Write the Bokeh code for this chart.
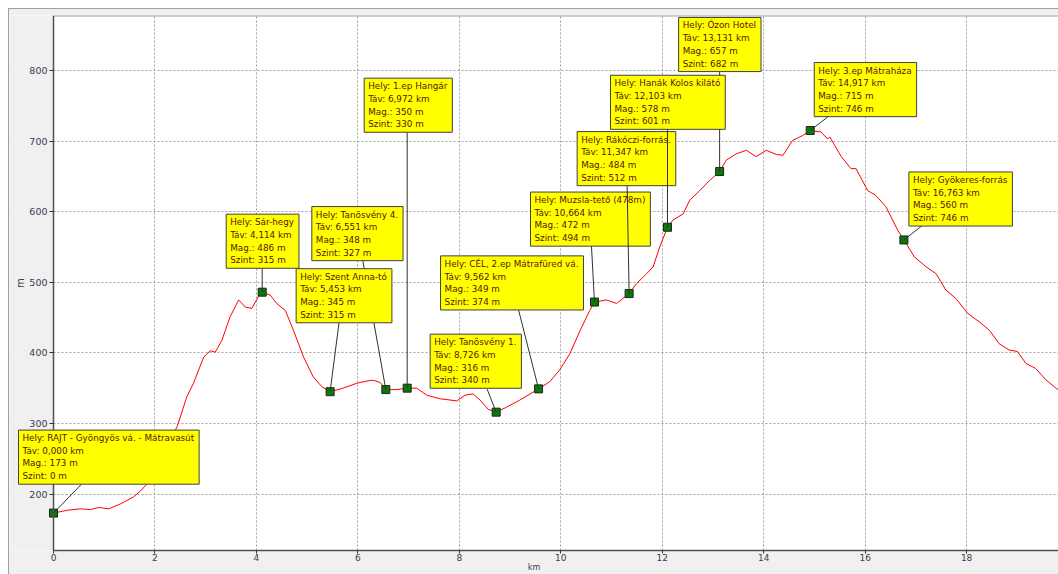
from bokeh.plotting import figure
from bokeh.models import Label, Arrow, Range1d
from bokeh.embed import file_html
from bokeh.resources import INLINE

# ---- elevation profile (distance km, elevation m) ----
dist_km = [0.0, 0.27, 0.53, 0.73, 0.89, 1.09, 1.32, 1.58, 1.71, 1.84, 2.04, 2.24, 2.44,
           2.63, 2.76, 2.96, 3.09, 3.19, 3.32, 3.48, 3.65, 3.78, 3.91, 4.07, 4.114, 4.27,
           4.40, 4.57, 4.73, 4.93, 5.12, 5.29, 5.453, 5.71, 5.98, 6.24, 6.31, 6.44, 6.551,
           6.77, 6.972, 7.16, 7.36, 7.62, 7.95, 8.11, 8.27, 8.41, 8.57, 8.726, 8.93, 9.19,
           9.562, 9.78, 9.98, 10.18, 10.37, 10.57, 10.664, 10.9, 11.1, 11.347, 11.49, 11.69,
           11.82, 11.95, 12.103, 12.21, 12.41, 12.54, 12.74, 12.93, 13.131, 13.26, 13.46,
           13.66, 13.85, 14.05, 14.25, 14.38, 14.57, 14.77, 14.917, 15.13, 15.26, 15.3,
           15.53, 15.72, 15.82, 16.05, 16.21, 16.41, 16.64, 16.763, 16.97, 17.2, 17.4,
           17.59, 17.79, 18.02, 18.25, 18.45, 18.64, 18.84, 19.0, 19.17, 19.36, 19.56,
           19.76, 19.9]
elev_m = [173, 177, 179, 178, 181, 179, 186, 196, 204, 214, 239, 267, 296,
          338, 357, 394, 403, 401, 418, 451, 475, 465, 463, 484, 486, 482,
          470, 460, 432, 394, 366, 352, 345, 350, 357, 361, 361, 358, 348,
          348, 350, 350, 340, 335, 332, 340, 342, 333, 320, 316, 323, 333,
          349, 359, 376, 399, 430, 460, 472, 475, 470, 484, 498, 512,
          522, 550, 578, 588, 597, 616, 630, 644, 657, 673, 682,
          687, 678, 687, 681, 680, 701, 708, 715, 713, 703, 706,
          678, 661, 661, 630, 623, 607, 574, 560, 536, 522, 512,
          489, 477, 456, 444, 432, 413, 404, 402, 385, 378, 362,
          350, 343]

# ---- waypoints ----
wp_name = ["RAJT - Gyöngyös vá. - Mátravasút", "Sár-hegy", "Szent Anna-tó",
           "Tanösvény 4.", "1.ep Hangár", "Tanösvény 1.", "CÉL, 2.ep Mátrafüred vá.",
           "Muzsla-tető (478m)", "Rákóczi-forrás.", "Hanák Kolos kilátó", "Ózon Hotel",
           "3.ep Mátraháza", "Gyökeres-forrás"]
wp_dist = [0.000, 4.114, 5.453, 6.551, 6.972, 8.726, 9.562, 10.664, 11.347, 12.103,
           13.131, 14.917, 16.763]
wp_elev = [173, 486, 345, 348, 350, 316, 349, 472, 484, 578, 657, 715, 560]
wp_szint = [0, 315, 315, 327, 330, 340, 374, 494, 512, 601, 682, 746, 746]

x_ticks = [0, 2, 4, 6, 8, 10, 12, 14, 16, 18]
y_ticks = [200, 300, 400, 500, 600, 700, 800]

# ---- layout (screen pixel offsets from each marker) ----
box_dx = [-35, -36, -34, -74, -43, -66, -98, -64, -52, -57, -41, 4, 5]
box_dy = [83, 78, 123, 183, 310, 78, 133, 110, 162, 152, 154, 68, 68]
conn_dx = [29, 0, 9, -23, 0, -9, -20, -3, -2, 0, 0, 18, 19]
conn_dy = [30, 24, 70, 129, 256, 23, 79, 56, 108, 98, 100, 14, 15]
draw_order = [0, 1, 3, 2, 4, 5, 6, 7, 8, 10, 9, 11, 12]

X0, X1 = 0.0, 19.811
XL = -0.8673            # grey strip left of the y axis
Y0, Y1 = 120.0, 878.0
FRAME_W, FRAME_H = 1049, 536
km_per_px = (X1 - XL) / FRAME_W
m_per_px = (Y1 - Y0) / FRAME_H

p = figure(width=1050, height=566, x_range=Range1d(XL, X1), y_range=Range1d(Y0, Y1),
           output_backend="svg", toolbar_location=None,
           min_border_left=1, min_border_right=0, min_border_top=7, min_border_bottom=23,
           border_fill_color=None, background_fill_color="white")
p.margin = (8, 0, 0, 8)
p.styles = {"background-color": "#f0f0f0", "box-shadow": "inset 1px 1px 0 #a0a0a0"}
p.outline_line_color = None

p.xaxis.ticker = x_ticks
p.yaxis.ticker = y_ticks
p.yaxis.fixed_location = X0
p.xaxis.bounds = (X0, X1)
for ax in (p.xaxis, p.yaxis):
    ax.axis_line_color = "#505050"
    ax.axis_line_width = 1.5
    ax.major_tick_in = 0
    ax.major_tick_line_color = "#303030"
    ax.minor_tick_line_color = None
    ax.major_label_text_font = "DejaVu Sans"
    ax.major_label_text_color = "#3a3a50"
    ax.axis_label_text_font = "DejaVu Sans"
    ax.axis_label_text_font_style = "normal"
    ax.axis_label_text_color = "#3a3a50"
    ax.axis_label_standoff = 0
p.yaxis.major_tick_out = 4
p.yaxis.major_label_standoff = 2
p.yaxis.major_label_text_font_size = "9.5px"
p.yaxis.axis_label = "m"
p.yaxis.axis_label_text_font_size = "10px"
p.xaxis.major_tick_out = 3
p.xaxis.major_label_standoff = 0
p.xaxis.major_label_text_font_size = "9px"
p.xaxis.axis_label = "km"
p.xaxis.axis_label_text_font_size = "8px"
p.xaxis.axis_label_standoff = -1

p.grid.grid_line_color = "#a0a0a0"
p.grid.grid_line_dash = "2 2"
p.grid.grid_line_width = 1

# grey panel to the left of the y axis, and the top edge of the plot area
p.quad(left=XL, right=X0, bottom=Y0, top=Y1, fill_color="#f0f0f0", line_color=None)
p.segment(x0=X0, y0=Y1, x1=X1, y1=Y1, line_color="#a0a0a0", line_width=2)

p.line(dist_km, elev_m, line_color="#ff0000", line_width=1)
p.scatter(wp_dist, wp_elev, marker="square", size=8, fill_color="#087a08",
          line_color="#202020", line_width=1)

for i in draw_order:
    xs = wp_dist[i] + conn_dx[i] * km_per_px
    ys = wp_elev[i] + conn_dy[i] * m_per_px
    p.add_layout(Arrow(end=None, x_start=xs, y_start=ys, x_end=wp_dist[i], y_end=wp_elev[i],
                       line_color="#303030", line_width=1))
    txt = "Hely: %s\nTáv: %s km\nMag.: %d m\nSzint: %d m" % (
        wp_name[i], ("%.3f" % wp_dist[i]).replace(".", ","), wp_elev[i], wp_szint[i])
    p.add_layout(Label(x=wp_dist[i], y=wp_elev[i], x_offset=box_dx[i], y_offset=box_dy[i],
                       anchor="top_left", text=txt, text_font="DejaVu Sans",
                       text_font_size="8.8px", text_color="#5a1408", text_line_height=1.27,
                       background_fill_color="#ffff00", border_line_color="#404040",
                       border_line_width=1,
                       padding=dict(left=4, right=5, top=3, bottom=3)))

open("out.html", "w").write(file_html(p, INLINE))
